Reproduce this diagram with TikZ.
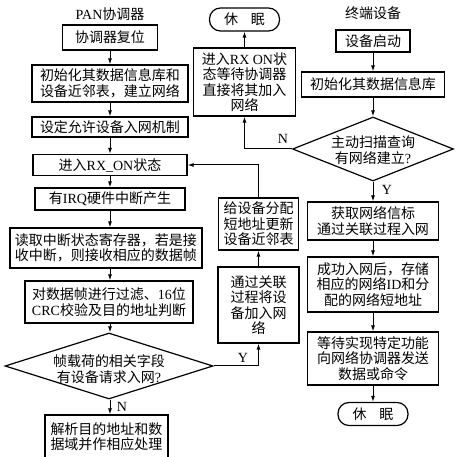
\documentclass[tikz,border=0pt]{standalone}
\usepackage{fontspec}
\setmainfont{Liberation Serif}
\newfontfamily\cjk{Noto Sans CJK SC}
\usetikzlibrary{arrows.meta, shapes.geometric}
\newcommand{\en}[1]{{\rmfamily #1}}

\begin{document}
\begin{tikzpicture}[
    x=1pt, y=-1pt,
    font=\cjk\fontsize{14}{15.5}\selectfont,
    box/.style={rectangle, draw, line width=1.2pt, inner sep=0pt, align=center},
    term/.style={rectangle, draw, line width=1.2pt, rounded corners=11pt,
                 minimum width=70pt, minimum height=23pt, inner sep=0pt},
    dec/.style={diamond, draw, line width=1.2pt, inner sep=0pt},
    arr/.style={-{Latex[length=6pt, width=4pt]}, line width=1pt},
    lbl/.style={font=\rmfamily\fontsize{14}{16}\selectfont, inner sep=0pt}
  ]
  \useasboundingbox (0,0) rectangle (459,457);

  % coordinator column
  \node[inner sep=0pt] (titlepan) at (110,14) {\en{PAN}协调器};
  \node[box, minimum width=95pt, minimum height=25pt] (reset) at (110,37.5) {协调器复位};
  \node[box, minimum width=156pt, minimum height=37pt] (init) at (110,83.5) {初始化其数据信息库和\\设备近邻表，建立网络};
  \node[box, minimum width=156pt, minimum height=20pt] (allow) at (110,127) {设定允许设备入网机制};
  \node[box, minimum width=154pt, minimum height=21pt] (rxon) at (110,165) {进入\en{RX\_ON}状态};
  \node[box, minimum width=150pt, minimum height=22pt] (irq) at (110,199) {有\en{IRQ}硬件中断产生};
  \node[box, minimum width=192pt, minimum height=40pt] (read) at (106,248) {读取中断状态寄存器，若是接\\收中断，则接收相应的数据帧};
  \node[box, minimum width=168pt, minimum height=42pt] (filter) at (109,302) {对数据帧进行过滤、\en{16}位\\\en{CRC}校验及目的地址判断};
  \node[dec, minimum width=208pt, minimum height=66pt] (d1) at (109,366) {};
  \node[align=center, inner sep=0pt] (d1txt) at (109,369) {帧载荷的相关字段\\有设备请求入网\en{?}};
  \node[box, minimum width=123pt, minimum height=43pt] (parse) at (106.5,436.5) {解析目的地址和数\\据域并作相应处理};

  % middle column
  \node[term] (sleep1) at (244.5,19.5) {休\hspace{0.9em}眠};
  \node[box, minimum width=102pt, minimum height=68pt] (wait) at (244.5,82) {进入\en{RX ON}状\\态等待协调器\\直接将其加入\\网络};
  \node[box, minimum width=80pt, minimum height=52pt] (assign) at (258.5,224) {给设备分配\\短地址更新\\设备近邻表};
  \node[box, minimum width=81pt, minimum height=76pt] (assoc) at (258.5,305) {通过关联\\过程将设\\备加入网\\络};

  % end device column
  \node[inner sep=0pt] (titleend) at (373,13) {终端设备};
  \node[box, minimum width=74pt, minimum height=22pt] (start) at (373,41) {设备启动};
  \node[box, minimum width=143pt, minimum height=25pt] (init2) at (373,84.5) {初始化其数据信息库};
  \node[dec, minimum width=161pt, minimum height=64pt] (d2) at (373,149) {};
  \node[align=center, inner sep=0pt] (d2txt) at (373,150) {主动扫描查询\\有网络建立\en{?}};
  \node[box, minimum width=131pt, minimum height=38pt] (get) at (373,221) {获取网络信标\\通过关联过程入网};
  \node[box, minimum width=131pt, minimum height=55pt] (success) at (373,284.5) {成功入网后，存储\\相应的网络\en{ID}和分\\配的网络短地址};
  \node[box, minimum width=131pt, minimum height=53pt] (waitfn) at (373,358.5) {等待实现特定功能\\向网络协调器发送\\数据或命令};
  \node[term] (sleep2) at (373,414) {休\hspace{0.9em}眠};

  % labels
  \node[lbl] (ln1) at (122,407) {N};
  \node[lbl] (ly1) at (243,358) {Y};
  \node[lbl] (ln2) at (283,139) {N};
  \node[lbl] (ly2) at (387,190) {Y};

  % connectors
  \draw[arr] (reset) -- (init);
  \draw[arr] (init) -- (allow);
  \draw[arr] (allow) -- (rxon);
  \draw[arr] (rxon) -- (irq);
  \draw[arr] (irq.south) -- (irq.south |- read.north);
  \draw[arr] (read.south -| irq) -- (filter.north -| irq);
  \draw[arr] (filter.south -| irq) -- (d1.north -| irq);
  \draw[arr] (d1.south -| irq) -- (parse.north -| irq);
  \draw[arr] (d1.east) -| (assoc.south);
  \draw[arr] (assoc) -- (assign);
  \draw[arr] (assign.north) |- (rxon.east);
  \draw[arr] (d2.west) -| (wait.south);
  \draw[arr] (wait) -- (sleep1);
  \draw[arr] (start) -- (init2);
  \draw[arr] (init2) -- (d2);
  \draw[arr] (d2) -- (get);
  \draw[arr] (get) -- (success);
  \draw[arr] (success) -- (waitfn);
  \draw[arr] (waitfn) -- (sleep2);
\end{tikzpicture}
\end{document}
